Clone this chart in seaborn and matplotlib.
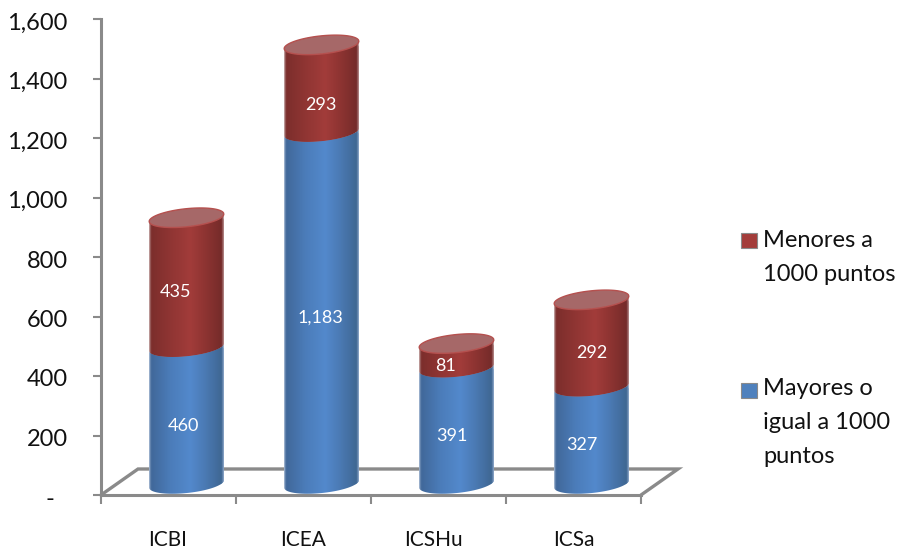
import numpy as np
import matplotlib
matplotlib.use("Agg")
import matplotlib.pyplot as plt
import seaborn as sns
from matplotlib.colors import LinearSegmentedColormap
from matplotlib.patches import PathPatch, Patch
from matplotlib.path import Path
from matplotlib.transforms import Affine2D

categories = ["ICBI", "ICEA", "ICSHu", "ICSa"]
mayores = [460, 1183, 391, 327]
menores = [435, 293, 81, 292]
label_mayores = "Mayores o\nigual a 1000\npuntos"
label_menores = "Menores a\n1000 puntos"
yticks = [0, 200, 400, 600, 800, 1000, 1200, 1400, 1600]
ytick_labels = ["-", "200", "400", "600", "800", "1,000", "1,200", "1,400", "1,600"]

sns.set_theme(style="white")
plt.rcParams["font.family"] = ["Lato", "DejaVu Sans"]
TEXT = "#111111"
GRAY = "#8a8a8a"

W, H = 900, 549
fig = plt.figure(figsize=(W / 100, H / 100), dpi=100)
ax = fig.add_axes([101 / W, 1 - 495 / H, 540 / W, 476 / H])

totals = [a + b for a, b in zip(mayores, menores)]
sns.barplot(x=categories, y=totals, color="#953735", width=0.55, saturation=1, ax=ax)
n_red = len(ax.patches)
sns.barplot(x=categories, y=mayores, color="#4f81bd", width=0.55, saturation=1, ax=ax)
ax.set_xlim(-0.5, 3.5)
ax.set_ylim(0, 1600)

PX = 135.0          # pixels per category
PY = 476 / 1600     # pixels per value unit
shift = Affine2D().translate(18, 11)
tr = ax.transData + shift

A, B, ROT = 37.5 / PX, 9.0 / PY, np.deg2rad(6)


def arc(cx, cy, t):
    ex, ey = 37.5 * np.cos(t), 9.0 * np.sin(t)
    x = ex * np.cos(ROT) - ey * np.sin(ROT)
    y = ex * np.sin(ROT) + ey * np.cos(ROT)
    return np.column_stack([cx + x / PX, cy + y / PY])


blue_cm = LinearSegmentedColormap.from_list(
    "b", ["#8ea6c6", "#41689a", "#4b7cb9", "#5389cc", "#4b7ab4", "#3f6793", "#8ea6c6"])
red_cm = LinearSegmentedColormap.from_list(
    "r", ["#b59090", "#7c2e2c", "#8f3533", "#a23c3a", "#8e3432", "#752b2a", "#b59090"])
xs = np.linspace(0, 1, 200)
stops = np.array([0.0, 0.03, 0.28, 0.55, 0.75, 0.97, 1.0])
pos = np.interp(xs, stops, np.linspace(0, 1, 7))[None, :]


def cylinder(cx, y0, y1, cmap, z):
    lower = arc(cx, y0, np.linspace(np.pi, 2 * np.pi, 60))
    top = arc(cx, y1, np.linspace(2 * np.pi, np.pi, 60))
    poly = np.vstack([lower, top, lower[:1]])
    path = Path(poly)
    im = ax.imshow(pos, cmap=cmap, vmin=0, vmax=1, aspect="auto",
                   extent=(cx - A, cx + A, y0 - 2 * B, y1 + 2 * B),
                   interpolation="bilinear", zorder=z)
    im.set_transform(tr)
    im.set_clip_path(path, tr)
    return path


for i, patch in enumerate(ax.patches):
    cx = patch.get_x() + patch.get_width() / 2
    is_red = i < n_red
    j = i if is_red else i - n_red
    y0 = mayores[j] if is_red else 0
    y1 = patch.get_height()
    path = cylinder(cx, y0, y1, red_cm if is_red else blue_cm, 3 if is_red else 2)
    patch.set_transform(tr)
    patch.set_zorder(1.5)
    patch.set_clip_path(path, tr)
    if is_red:
        cap = Path(arc(cx, y1, np.linspace(0, 2 * np.pi, 90)), closed=False)
        ax.add_patch(PathPatch(cap, facecolor="#a66868", edgecolor="#b5504e",
                               lw=1.0, transform=tr, zorder=4, clip_on=False))

ax.set_xlim(-0.5, 3.5)
ax.set_ylim(0, 1600)

# floor of the 3-D frame
depth_x, depth_y = 37 / PX, 26 / PY
floor_x = [-0.5, -0.5 + depth_x, 3.5 + depth_x, 3.5]
floor_y = [0, depth_y, depth_y, 0]
ax.plot(floor_x, floor_y, color=GRAY, lw=2.4, clip_on=False, zorder=1,
        solid_joinstyle="miter")

for s in ["top", "right"]:
    ax.spines[s].set_visible(False)
for s in ["left", "bottom"]:
    ax.spines[s].set_color(GRAY)
    ax.spines[s].set_linewidth(2.2)

ax.set_yticks(yticks)
ax.set_yticklabels(ytick_labels, fontsize=17, color=TEXT)
ax.tick_params(axis="y", left=True, length=6, width=1.5, color=GRAY, pad=18)
for k, lab in enumerate(ax.get_yticklabels()):
    lab.set_transform(lab.get_transform() + Affine2D().translate(-13 if k == 0 else 0, -2))
ax.set_xticks(np.arange(-0.5, 4, 1))
ax.set_xticklabels([])
ax.tick_params(axis="x", which="major", bottom=True, length=6.5, width=1.5, color=GRAY)
ax.set_xticks([-0.01, 1.0, 1.96, 3.0], minor=True)
ax.set_xticklabels(categories, minor=True, fontsize=15, color=TEXT)
ax.tick_params(axis="x", which="minor", bottom=False, length=0, pad=25)
ax.set_xlabel("")
ax.set_ylabel("")

# value labels (offsets in pixels from the segment centre)
off_blue = [(-3.5, -10.4), (-1.5, -10.0), (-4.5, -10.0), (-9.5, -9.6)]
off_red = [(-10.5, -9.6), (-0.5, -16.5), (-10.5, -10.4), (0.5, -9.7)]
for i in range(4):
    for val, base, (dx, dy) in ((mayores[i], 0, off_blue[i]), (menores[i], mayores[i], off_red[i])):
        ax.annotate(f"{val:,}", xy=(i, base + val / 2), xycoords=tr,
                    xytext=(dx * 0.72, dy * 0.72), textcoords="offset points",
                    ha="center", va="center", color="white", fontsize=13, zorder=6)

handles = [Patch(facecolor="#a33c3a", edgecolor="#8a8a8a", lw=0.8),
           Patch(facecolor="#4f81bd", edgecolor="#8a8a8a", lw=0.8)]
leg = fig.legend(handles, [label_menores, label_mayores], loc="upper left",
                 bbox_to_anchor=(741 / W, 1 - 230 / H), frameon=False, fontsize=17,
                 handlelength=0.68, handleheight=0.6, handletextpad=0.27,
                 labelspacing=3.95, labelcolor=TEXT, borderpad=0, borderaxespad=0)
for t in leg.get_texts():
    t.set_linespacing(1.75)
for h, up in zip(leg.legend_handles, (12, 23)):
    h.set_y(h.get_y() + up)

fig.savefig("out.png", dpi=100, facecolor="white")
